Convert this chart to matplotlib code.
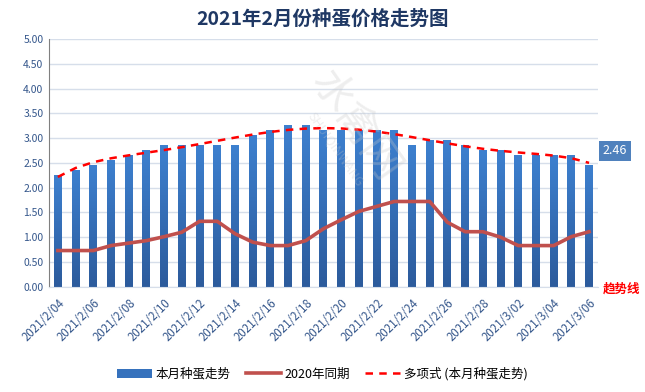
import matplotlib.pyplot as plt
import numpy as np

plt.rcParams['font.family'] = ['Noto Sans CJK SC', 'DejaVu Sans']

# 日期 2021/2/04 - 2021/3/06
dates = ['2021/2/%02d' % d for d in range(4, 29)] + ['2021/3/%02d' % d for d in range(1, 7)]

# 本月种蛋价格
price_2021 = [2.26, 2.36, 2.46, 2.56, 2.66, 2.76, 2.86, 2.86, 2.86, 2.86, 2.86,
              3.06, 3.16, 3.26, 3.26, 3.16, 3.16, 3.16, 3.16, 3.16, 2.86, 2.96,
              2.96, 2.86, 2.76, 2.76, 2.66, 2.66, 2.66, 2.66, 2.46]
# 2020年同期
price_2020 = [0.73, 0.73, 0.73, 0.83, 0.88, 0.93, 1.01, 1.10, 1.32, 1.32, 1.07,
              0.90, 0.83, 0.83, 0.93, 1.17, 1.35, 1.52, 1.62, 1.72, 1.72, 1.72,
              1.30, 1.11, 1.11, 1.00, 0.83, 0.83, 0.83, 1.01, 1.11]

x = np.arange(len(dates))

# 多项式趋势线
coef = np.polyfit(x + 1, price_2021, 6)
trend = np.polyval(coef, x + 1)

fig = plt.figure(figsize=(6.45, 3.92), dpi=100)
ax = fig.add_axes([0.076, 0.2686, 0.851, 0.632])

bars = ax.bar(x, price_2021, width=0.45, color='#3672BD', label='本月种蛋走势', zorder=2)
# 柱子渐变
grad = np.linspace(0, 1, 100).reshape(-1, 1)
from matplotlib.colors import LinearSegmentedColormap
cmap = LinearSegmentedColormap.from_list('b', ['#2C5B9C', '#3D80CF'])
for b in bars:
    bx, by = b.get_x(), b.get_y()
    im = ax.imshow(grad, cmap=cmap, aspect='auto', origin='lower',
                   extent=[bx, bx + b.get_width(), by, by + b.get_height()], zorder=2)
    im.set_clip_path(b)

l1, = ax.plot(x, price_2020, color='#C0504D', lw=2.6, label='2020年同期', zorder=3,
              solid_joinstyle='round')
l2, = ax.plot(x, trend, color='#FF0000', lw=1.8, ls=(0, (3, 2.5)),
              label='多项式 (本月种蛋走势)', zorder=4)

ax.set_xlim(-0.5, len(dates) - 0.5)
ax.set_ylim(0, 5)
ax.set_yticks(np.arange(0, 5.01, 0.5))
ax.set_yticklabels(['%.2f' % v for v in np.arange(0, 5.01, 0.5)])
ax.set_xticks(x[::2])
ax.set_xticklabels(dates[::2], rotation=45, ha='right', rotation_mode='anchor')
ax.tick_params(axis='both', colors='#34568B', labelsize=7.5, length=0, pad=4)
ax.tick_params(axis='x', labelsize=8.3, pad=7)

ax.grid(axis='y', color='#D6DEEA', lw=1, zorder=0)
for s in ['top', 'right']:
    ax.spines[s].set_visible(False)
ax.spines['left'].set_color('#808080')
ax.spines['bottom'].set_color('#D6DEEA')

# 水印
fig.text(0.55, 0.68, '水禽网', fontsize=30, color='#C8C8C8', alpha=0.3,
         rotation=-55, ha='center', va='center')
fig.text(0.52, 0.62, 'SHUIQINWANG', fontsize=9, color='#C8C8C8', alpha=0.3,
         rotation=-55, ha='center', va='center')

# 数据标签
ax.annotate('%.2f' % price_2021[-1], (x[-1], price_2021[-1]), xytext=(10, 10),
            textcoords='offset points', color='white', fontsize=9, va='center', ha='left',
            bbox=dict(boxstyle='square,pad=0.3', fc='#4F81BD', ec='none'))

fig.text(0.993, 0.262, '趋势线', color='#FF0000', fontsize=9, fontweight='bold',
         ha='right', va='center')

fig.suptitle('2021年2月份种蛋价格走势图', y=0.975, fontsize=14, fontweight='bold',
             color='#1F3864')

fig.legend(handles=[bars, l1, l2], loc='lower center', bbox_to_anchor=(0.5, 0.0), ncol=3,
           frameon=False, fontsize=9, handlelength=2.8, columnspacing=1.2,
           handletextpad=0.3)

fig.savefig('out.png', dpi=100)
